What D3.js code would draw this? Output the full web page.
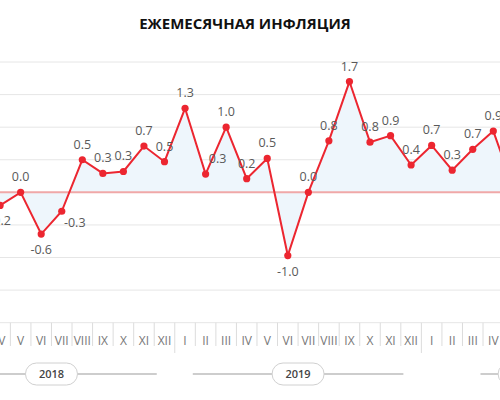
<!DOCTYPE html>
<html>
<head>
<meta charset="utf-8">
<script src="https://cdn.jsdelivr.net/npm/d3@7"></script>
<style>
  body { margin: 0; background: #fff; }
  svg { display: block; font-family: "Open Sans", sans-serif; }
</style>
</head>
<body>
<script>
const title = 'ЕЖЕМЕСЯЧНАЯ ИНФЛЯЦИЯ';
const romans = ['I','II','III','IV','V','VI','VII','VIII','IX','X','XI','XII'];

const months = ['IV','V','VI','VII','VIII','IX','X','XI','XII',
                'I','II','III','IV','V','VI','VII','VIII','IX','X','XI','XII',
                'I','II','III','IV','V'];
const monthYears = [2018,2018,2018,2018,2018,2018,2018,2018,2018,
                    2019,2019,2019,2019,2019,2019,2019,2019,2019,2019,2019,2019,
                    2020,2020,2020,2020,2020];
const values = [-0.2, 0.0, -0.64, -0.29, 0.5, 0.29, 0.32, 0.71, 0.47,
                1.29, 0.28, 1.0, 0.21, 0.52, -0.97, 0.0, 0.79, 1.7, 0.77, 0.87, 0.42,
                0.72, 0.34, 0.66, 0.94, 0.05];
// where the value label sits relative to its point
const labelPlace = ['d','u','d','dr','u','u','u','u','u',
                    'u','ur','u','u','u','d','u','u','u','u','u','u',
                    'u','u','u','u','u'];

const years = [2018, 2019, 2020];
const yearFirstMonth = [1, 1, 3];
const yearLastMonth = [12, 12, 8];

const yTicks = [-2, -1.5, -1, -0.5, 0, 0.5, 1, 1.5, 2];

const width = 500, height = 400;
const baseYear = 2018;
const ord = (yr, m) => (yr - baseYear) * 12 + m - 1;

const data = months.map((m, i) => ({
  t: ord(monthYears[i], romans.indexOf(m) + 1),
  month: m,
  v: values[i],
  place: labelPlace[i]
}));

const xScale = d3.scaleLinear()
                .domain([ord(2018, 4), ord(2020, 4)])
                .range([0.1, 493.3]);

const yScale = d3.scaleLinear()
                .domain([-2, 2])
                .range([322.7, 62]);

const svg = d3.select('body')
              .append('svg')
              .attr('width', width)
              .attr('height', height);

svg.append('text')
    .attr('x', 245)
    .attr('y', 29)
    .attr('text-anchor', 'middle')
    .style('font-size', '15px')
    .style('font-weight', 'bold')
    .style('fill', '#111')
    .text(title);

// grid
svg.append('g')
    .selectAll('line')
    .data(yTicks)
    .enter()
      .append('line')
      .attr('x1', 0)
      .attr('x2', width)
      .attr('y1', (d) => yScale(d))
      .attr('y2', (d) => yScale(d))
      .style('stroke', '#e6e6e6')
      .style('stroke-width', 1);

const area = d3.area()
              .x((d) => xScale(d.t))
              .y0(yScale(0))
              .y1((d) => yScale(d.v));

svg.append('path')
    .datum(data)
    .attr('d', area)
    .style('fill', '#eef6fc');

svg.append('line') // zero line
    .attr('x1', 0)
    .attr('x2', width)
    .attr('y1', yScale(0))
    .attr('y2', yScale(0))
    .style('stroke', '#f0a8a8')
    .style('stroke-width', 2);

const line = d3.line()
              .x((d) => xScale(d.t))
              .y((d) => yScale(d.v));

svg.append('path')
    .datum(data)
    .attr('d', line)
    .style('fill', 'none')
    .style('stroke', '#ec2630')
    .style('stroke-width', 2);

svg.append('g')
    .selectAll('circle')
    .data(data)
    .enter()
      .append('circle')
      .attr('cx', (d) => xScale(d.t))
      .attr('cy', (d) => yScale(d.v))
      .attr('r', 3.6)
      .style('fill', '#ec2630');

const labelDx = { u: 0, d: 0, ur: 12, dr: 13 };
const labelDy = { u: -11, d: 20, ur: -11, dr: 16 };

svg.append('g')
    .selectAll('text')
    .data(data)
    .enter()
      .append('text')
      .attr('x', (d) => xScale(d.t) + labelDx[d.place])
      .attr('y', (d) => yScale(d.v) + labelDy[d.place])
      .attr('text-anchor', 'middle')
      .style('font-size', '12.5px')
      .style('fill', '#595959')
      .text((d) => d.v.toFixed(1));

// month axis
const axis = svg.append('g');

axis.selectAll('line')
    .data(data)
    .enter()
      .append('line')
      .attr('x1', (d) => xScale(d.t - 0.5))
      .attr('x2', (d) => xScale(d.t - 0.5))
      .attr('y1', yScale(-2))
      .attr('y2', (d) => d.month === 'I' ? 353 : 346)
      .style('stroke', '#dcdcdc')
      .style('stroke-width', 1);

axis.selectAll('text')
    .data(data)
    .enter()
      .append('text')
      .attr('x', (d) => xScale(d.t))
      .attr('y', 344.5)
      .attr('text-anchor', 'middle')
      .style('font-size', '12px')
      .style('fill', '#777')
      .text((d) => d.month);

// year bands
const yearData = years.map((yr, i) => {
  const x0 = xScale(ord(yr, yearFirstMonth[i]) - 0.5);
  const x1 = xScale(ord(yr, yearLastMonth[i]) + 0.5);
  return { year: yr, x0: x0, x1: x1, cx: (x0 + x1) / 2 };
});

const bands = svg.append('g')
                .selectAll('g')
                .data(yearData)
                .enter()
                  .append('g');

bands.append('line')
    .attr('x1', (d) => d.x0 + 18)
    .attr('x2', (d) => d.x1 - 18)
    .attr('y1', 374)
    .attr('y2', 374)
    .style('stroke', '#bdbdbd')
    .style('stroke-width', 1.5);

bands.append('rect')
    .attr('x', (d) => d.cx - 26)
    .attr('y', 363)
    .attr('width', 52)
    .attr('height', 22)
    .attr('rx', 11)
    .style('fill', '#fff')
    .style('stroke', '#d0d0d0')
    .style('stroke-width', 1);

bands.append('text')
    .attr('x', (d) => d.cx)
    .attr('y', 378)
    .attr('text-anchor', 'middle')
    .style('font-size', '11px')
    .style('font-weight', 600)
    .style('fill', '#444')
    .text((d) => d.year);
</script>
</body>
</html>
